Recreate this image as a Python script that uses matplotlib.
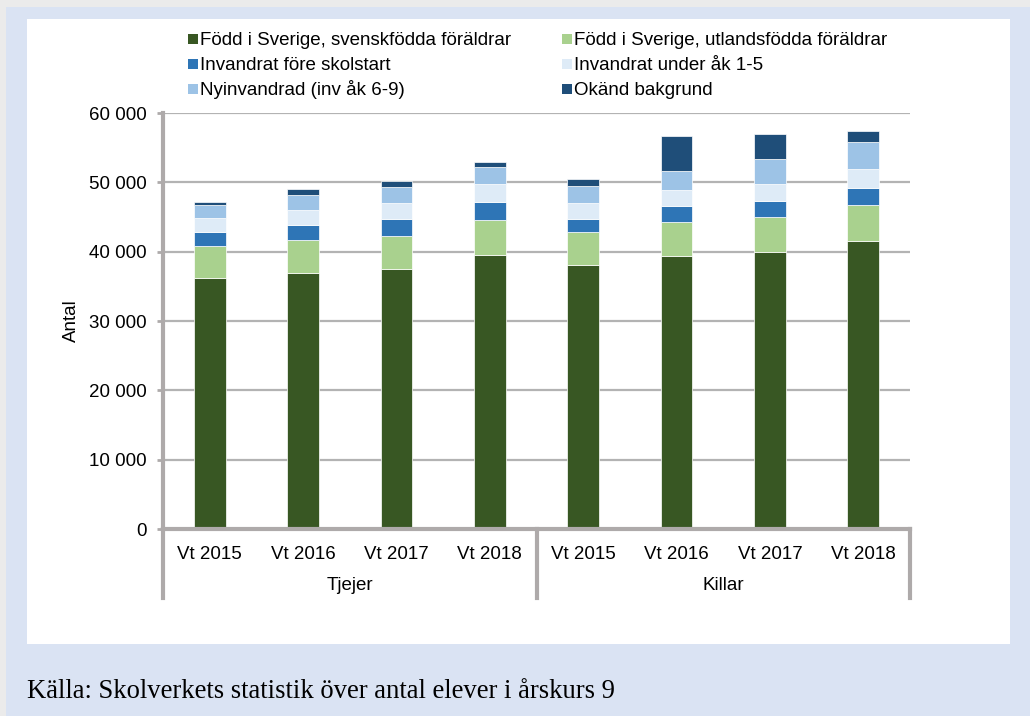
import numpy as np
import matplotlib
matplotlib.use("Agg")
import matplotlib.pyplot as plt
from matplotlib.patches import Rectangle
from matplotlib.ticker import FuncFormatter

plt.rcParams['font.family'] = ['Liberation Sans', 'DejaVu Sans']

# data (antal elever i åk 9)
years = ["Vt 2015", "Vt 2016", "Vt 2017", "Vt 2018"]
groups = ["Tjejer", "Killar"]

svenskfodda = [36150, 36970, 37460, 39520, 38080, 39420, 39950, 41590]
utlandsfodda = [4700, 4670, 4850, 5050, 4710, 4910, 5010, 5140]
fore_skolstart = [1930, 2160, 2360, 2640, 1920, 2210, 2310, 2500]
under_ak1_5 = [2020, 2170, 2310, 2550, 2310, 2360, 2450, 2700]
nyinvandrad = [1880, 2160, 2400, 2410, 2410, 2780, 3650, 3940]
okand = [520, 960, 810, 720, 1010, 4960, 3600, 1540]

series = [svenskfodda, utlandsfodda, fore_skolstart, under_ak1_5, nyinvandrad, okand]
names = ["Född i Sverige, svenskfödda föräldrar",
         "Född i Sverige, utlandsfödda föräldrar",
         "Invandrat före skolstart",
         "Invandrat under åk 1-5",
         "Nyinvandrad (inv åk 6-9)",
         "Okänd bakgrund"]
colors = ["#385723", "#a9d18e", "#2e75b6", "#deebf7", "#9dc3e6", "#1f4e79"]

W, H = 1030, 716
fig = plt.figure(figsize=(W / 100, H / 100), dpi=100)
fig.patch.set_facecolor("#dae3f3")

# outer grey edge + white panel (behind the axes)
fig.patches.append(Rectangle((0, 1 - 7 / H), 1, 7 / H, transform=fig.transFigure,
                             facecolor="#ebebeb", edgecolor="none", zorder=-2))
fig.patches.append(Rectangle((0, 0), 6 / W, 1, transform=fig.transFigure,
                             facecolor="#ebebeb", edgecolor="none", zorder=-2))
fig.patches.append(Rectangle((27 / W, 1 - 644 / H), (1010 - 27) / W, (644 - 19) / H,
                             transform=fig.transFigure, facecolor="white",
                             edgecolor="none", zorder=-1))

ax = fig.add_axes([163 / W, 1 - 529 / H, (910 - 163) / W, (529 - 113) / H])
ax.set_facecolor("white")

x = np.arange(len(svenskfodda))
bottom = np.zeros(len(x))
for vals, col in zip(series, colors):
    ax.bar(x, vals, width=0.34, bottom=bottom, color=col,
           edgecolor="white", linewidth=0.5, zorder=3)
    bottom += np.array(vals)

ax.set_xlim(-0.5, len(x) - 0.5)
ax.set_ylim(0, 60000)
ax.set_yticks(np.arange(0, 60001, 10000))
ax.yaxis.set_major_formatter(FuncFormatter(lambda v, p: f"{int(v):,}".replace(",", " ")))
ax.grid(axis="y", color="#b3b3b3", linewidth=1.6, zorder=1)

axis_col = "#aeaaaa"
for s in ["top", "right"]:
    ax.spines[s].set_visible(False)
for s in ["left", "bottom"]:
    ax.spines[s].set_color(axis_col)
    ax.spines[s].set_linewidth(3)
    ax.spines[s].set_zorder(4)
ax.tick_params(axis="y", length=4, width=2, color=axis_col, labelsize=13.5, pad=8)
ax.tick_params(axis="x", length=0, labelsize=13.5, pad=12)
ax.set_xticks(x)
ax.set_xticklabels(years * 2)
ax.set_ylabel("Antal", fontsize=13.5, labelpad=6)

# group labels and separators under the axis
for i, g in enumerate(groups):
    ax.text(i * 4 + 1.5, -0.137, g, transform=ax.get_xaxis_transform(),
            ha="center", va="center", fontsize=13.5)
for xs in [-0.5, 3.5, 7.5]:
    ax.plot([xs, xs], [0, -0.166], transform=ax.get_xaxis_transform(),
            color=axis_col, linewidth=3, clip_on=False, zorder=4)

# legend: two columns, three rows (laid out by hand so rows line up)
col_x = [188, 562]
row_y = [39, 64, 89]
for i, (name, col) in enumerate(zip(names, colors)):
    cx = col_x[i % 2]
    cy = row_y[i // 2]
    fig.patches.append(Rectangle((cx / W, 1 - (cy + 5) / H), 10 / W, 10 / H,
                                 transform=fig.transFigure, facecolor=col,
                                 edgecolor="none"))
    fig.text((cx + 12) / W, 1 - (cy + 6) / H, name, fontsize=13.5,
             ha="left", va="baseline")

fig.text(27 / W, 1 - 692 / H, "Källa: Skolverkets statistik över antal elever i årskurs 9",
         family=["Liberation Serif", "DejaVu Serif"], fontsize=19.2, va="center", ha="left")

fig.savefig("out.png", dpi=100, facecolor=fig.get_facecolor())
